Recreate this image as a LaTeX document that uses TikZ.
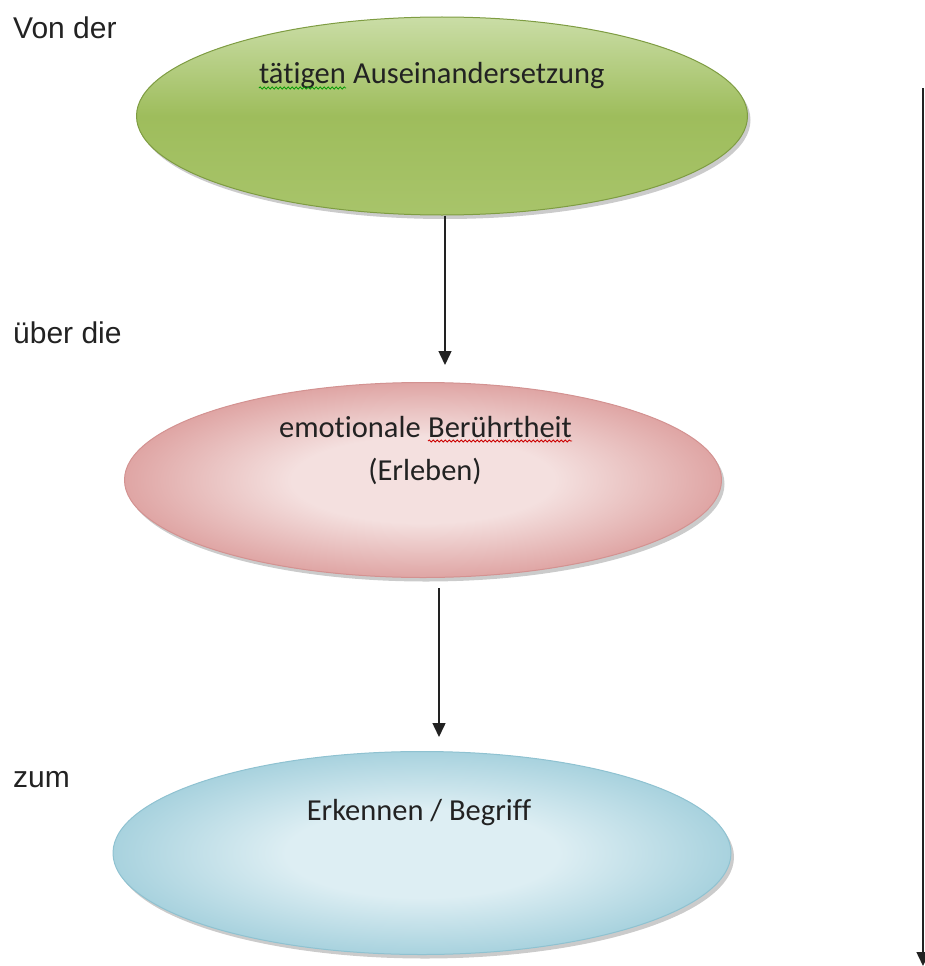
\documentclass[tikz,border=0pt]{standalone}
\usepackage{fontspec}
\setmainfont{Carlito}[Ligatures={NoCommon}]
\newfontfamily\labelfont{Liberation Sans}
\usetikzlibrary{shapes.geometric,arrows.meta,decorations.pathmorphing}

\definecolor{greenTop}{HTML}{CADDA6}
\definecolor{greenMid}{HTML}{9EBD5C}
\definecolor{greenBot}{HTML}{A8C46A}
\definecolor{greenRim}{HTML}{7E9C42}
\definecolor{pinkIn}{HTML}{F4E0DF}
\definecolor{pinkOut}{HTML}{DFA5A4}
\definecolor{pinkRim}{HTML}{D39291}
\definecolor{blueIn}{HTML}{DDEEF3}
\definecolor{blueOut}{HTML}{A8D2DE}
\definecolor{blueRim}{HTML}{8FC2D1}
\definecolor{ink}{HTML}{222222}

\tikzset{
  oval/.style={ellipse, inner sep=0pt},
  shadowoval/.style={ellipse, inner sep=0pt, fill=black!45, opacity=0.45},
  txt/.style={inner sep=0pt, text=ink, font=\fontsize{30.5}{36}\selectfont},
  lbl/.style={inner sep=0pt, text=ink, anchor=base west, font=\labelfont\fontsize{30}{36}\selectfont},
  flow/.style={draw=ink, line width=1.5pt, -{Triangle[length=14pt,width=13pt]}},
  squig/.style={draw=#1, line width=0.8pt, decorate,
    decoration={snake, amplitude=1.1pt, segment length=4pt}}
}

\pgfdeclareradialshading{pinkglow}{\pgfpoint{0bp}{0bp}}{%
  color(0bp)=(pinkIn); color(11bp)=(pinkIn); color(25bp)=(pinkOut); color(50bp)=(pinkOut)}
\pgfdeclareradialshading{blueglow}{\pgfpoint{0bp}{0bp}}{%
  color(0bp)=(blueIn); color(11bp)=(blueIn); color(25bp)=(blueOut); color(50bp)=(blueOut)}

\begin{document}
\begin{tikzpicture}[x=1pt, y=-1pt]
\useasboundingbox (0,0) rectangle (925,966);

% drop shadows under the three ovals
\node[shadowoval, minimum width=611pt, minimum height=198pt] (gs) at (445,120) {};
\node[shadowoval, minimum width=597pt, minimum height=195pt] (ps) at (426,484) {};
\node[shadowoval, minimum width=618pt, minimum height=203pt] (bs) at (425,857) {};

% the three ovals
\node[oval, minimum width=611pt, minimum height=198pt, draw=greenRim, line width=1pt,
      top color=greenTop, bottom color=greenBot, middle color=greenMid] (g) at (442,116) {};
\node[oval, minimum width=597pt, minimum height=195pt, draw=pinkRim, line width=1pt,
      shading=pinkglow] (p) at (423,480) {};
\node[oval, minimum width=618pt, minimum height=203pt, draw=blueRim, line width=1pt,
      shading=blueglow] (b) at (422,853) {};

% texts inside the ovals
\node[txt, anchor=base east] (g1) at (346,84) {tätigen};
\node[txt, anchor=base west] (g2) at (353,84) {Auseinandersetzung};
\node[txt, anchor=base east] (p1) at (421,437) {emotionale};
\node[txt, anchor=base west] (p2) at (428,437) {Berührtheit};
\node[txt, anchor=base] (p3) at (425,480) {(Erleben)};
\node[txt, anchor=base] (b1) at (419,820) {Erkennen / Begriff};

% spelling marks under two words
\draw[squig=green!60!black] ([yshift=-4pt]g1.base west) -- ([yshift=-4pt]g1.base east);
\draw[squig=red!80!black] ([yshift=-4pt]p2.base west) -- ([yshift=-4pt]p2.base east);

% left-hand labels
\node[lbl] (l1) at (13,38) {Von der};
\node[lbl] (l2) at (13,343) {über die};
\node[lbl] (l3) at (13,787) {zum};

% connectors between the ovals
\coordinate (a1s) at ([xshift=3pt]g.south);
\coordinate (a2s) at ([xshift=16pt,yshift=-10pt]p.south);
\draw[flow] (a1s) -- ([yshift=17pt]a1s |- p.north);
\draw[flow] (a2s) -- ([yshift=14pt]a2s |- b.north);

% long arrow on the right
\coordinate (rtop) at (923,88);
\coordinate (rbot) at (923,966);
\draw[flow] (rtop) -- (rbot);
\end{tikzpicture}
\end{document}
